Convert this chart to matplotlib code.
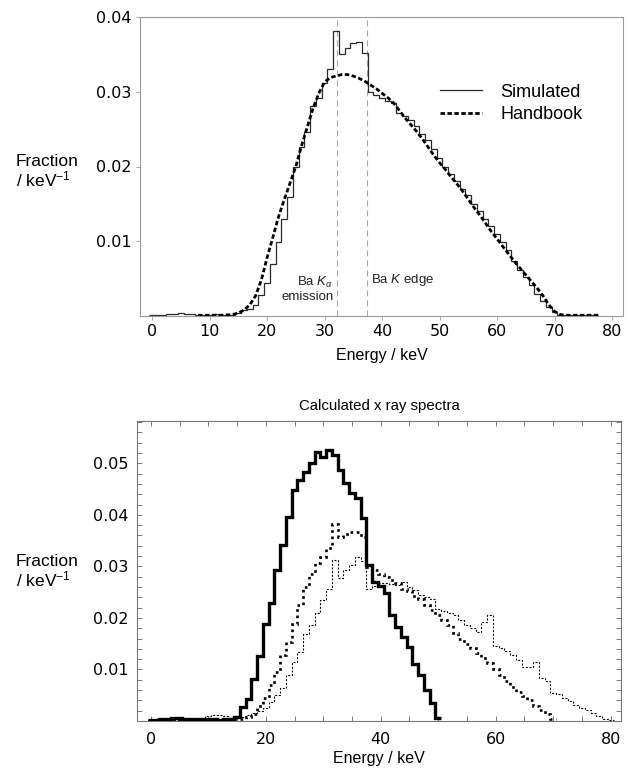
import numpy as np
import matplotlib
matplotlib.use("Agg")
import matplotlib.pyplot as plt
from matplotlib.ticker import MultipleLocator

plt.rcParams['font.family'] = ['Liberation Sans', 'DejaVu Sans']
plt.rcParams['mathtext.fontset'] = 'custom'
plt.rcParams['mathtext.rm'] = 'Liberation Sans'
plt.rcParams['mathtext.it'] = 'Liberation Sans:italic'
plt.rcParams['mathtext.sf'] = 'Liberation Sans'

# ---------------- Top panel data ----------------
# Simulated spectrum, 1 keV bins centred on integer energies (keV)
sim_bins = list(range(0, 78))
sim_values = [
    0.0001, 0.0001, 0.0002, 0.0003, 0.0003, 0.0004, 0.0003, 0.0003, 0.0002, 0.0002,
    0.0002, 0.0003, 0.0002, 0.0002, 0.0002, 0.0004, 0.0008, 0.0010, 0.0015, 0.0028,
    0.0044, 0.0070, 0.0099, 0.0130, 0.0159, 0.0199, 0.0226, 0.0246, 0.0281, 0.0292,
    0.0312, 0.0330, 0.0381, 0.0350, 0.0359, 0.0365, 0.0366, 0.0352, 0.0299, 0.0295,
    0.0292, 0.0288, 0.0285, 0.0272, 0.0268, 0.0262, 0.0254, 0.0243, 0.0236, 0.0224,
    0.0212, 0.0199, 0.0190, 0.0180, 0.0170, 0.0162, 0.0150, 0.0140, 0.0130, 0.0120,
    0.0110, 0.0099, 0.0088, 0.0074, 0.0062, 0.0052, 0.0042, 0.0030, 0.0020, 0.0012,
    0.0005, 0.0002, 0.0001, 0.0001, 0.0001, 0.0001, 0.0001, 0.0001,
]

# Handbook spectrum (keV, fraction/keV)
hb_energy = [8, 10, 12, 14, 15, 16, 17, 18, 19, 20, 21, 22, 23, 24, 25, 26, 27, 28, 29,
             30, 31, 32, 33, 34, 35, 36, 37, 38, 39, 40, 41, 42, 43, 44, 45, 46, 47, 48,
             49, 50, 51, 52, 53, 54, 55, 56, 57, 58, 59, 60, 61, 62, 63, 64, 65, 66, 67,
             68, 69, 70, 71, 72, 75, 78]
hb_values = [0.0001, 0.0001, 0.0001, 0.0002, 0.0004, 0.0008, 0.0015, 0.0027, 0.0048,
             0.0078, 0.0105, 0.0133, 0.0156, 0.0178, 0.0200, 0.0228, 0.0253, 0.0278,
             0.0298, 0.0313, 0.0319, 0.0321, 0.0323, 0.0323, 0.0321, 0.0318, 0.0314,
             0.0309, 0.0304, 0.0298, 0.0292, 0.0285, 0.0275, 0.0265, 0.0256, 0.0247,
             0.0237, 0.0226, 0.0215, 0.0205, 0.0196, 0.0186, 0.0177, 0.0167, 0.0156,
             0.0145, 0.0135, 0.0124, 0.0113, 0.0103, 0.0093, 0.0083, 0.0073, 0.0064,
             0.0055, 0.0046, 0.0037, 0.0027, 0.0015, 0.0006, 0.0002, 0.0001, 0.0001,
             0.0001]

ka_energy = 32.19     # Ba K-alpha emission (keV)
k_edge = 37.44        # Ba K edge (keV)

# ---------------- Bottom panel data ----------------
solid_bins = list(range(0, 51))
solid_values = [
    0.0002, 0.0002, 0.0003, 0.0004, 0.0005, 0.0005, 0.0004, 0.0004, 0.0003, 0.0003,
    0.0003, 0.0003, 0.0002, 0.0003, 0.0003, 0.0008, 0.0027, 0.0042, 0.0081, 0.0126,
    0.0189, 0.0229, 0.0293, 0.0341, 0.0396, 0.0448, 0.0468, 0.0484, 0.0500, 0.0521,
    0.0513, 0.0526, 0.0516, 0.0487, 0.0461, 0.0442, 0.0432, 0.0393, 0.0303, 0.0270,
    0.0262, 0.0248, 0.0205, 0.0183, 0.0163, 0.0144, 0.0110, 0.0089, 0.0060, 0.0034,
    0.0005,
]

thick_dot_bins = list(range(0, 71))
thick_dot_values = [
    0.0002, 0.0002, 0.0002, 0.0003, 0.0003, 0.0003, 0.0002, 0.0002, 0.0002, 0.0002,
    0.0002, 0.0002, 0.0002, 0.0002, 0.0002, 0.0003, 0.0004, 0.0008, 0.0014, 0.0030,
    0.0044, 0.0070, 0.0095, 0.0128, 0.0154, 0.0189, 0.0225, 0.0260, 0.0286, 0.0306,
    0.0319, 0.0335, 0.0382, 0.0357, 0.0362, 0.0366, 0.0367, 0.0357, 0.0299, 0.0293,
    0.0286, 0.0280, 0.0273, 0.0267, 0.0257, 0.0252, 0.0243, 0.0236, 0.0225, 0.0216,
    0.0205, 0.0196, 0.0187, 0.0170, 0.0160, 0.0150, 0.0142, 0.0132, 0.0122, 0.0112,
    0.0101, 0.0090, 0.0077, 0.0065, 0.0057, 0.0048, 0.0040, 0.0030, 0.0022, 0.0013,
    0.0004,
]

thin_dot_bins = list(range(0, 81))
thin_dot_values = [
    0.0002, 0.0002, 0.0002, 0.0002, 0.0002, 0.0002, 0.0002, 0.0002, 0.0002, 0.0002,
    0.0010, 0.0011, 0.0011, 0.0010, 0.0006, 0.0005, 0.0008, 0.0012, 0.0016, 0.0020,
    0.0026, 0.0037, 0.0050, 0.0064, 0.0090, 0.0115, 0.0134, 0.0168, 0.0187, 0.0210,
    0.0235, 0.0257, 0.0312, 0.0277, 0.0293, 0.0303, 0.0318, 0.0311, 0.0257, 0.0262,
    0.0267, 0.0267, 0.0265, 0.0264, 0.0270, 0.0260, 0.0254, 0.0245, 0.0240, 0.0237,
    0.0218, 0.0213, 0.0209, 0.0205, 0.0196, 0.0186, 0.0180, 0.0172, 0.0192, 0.0205,
    0.0146, 0.0141, 0.0135, 0.0128, 0.0119, 0.0104, 0.0104, 0.0114, 0.0083, 0.0078,
    0.0055, 0.0052, 0.0045, 0.0038, 0.0031, 0.0025, 0.0021, 0.0015, 0.0009, 0.0004,
    0.0002,
]

top_yticks = [0.01, 0.02, 0.03, 0.04]
top_ytick_labels = ["0.01", "0.02", "0.03", "0.04"]
top_xticks = [0, 10, 20, 30, 40, 50, 60, 70, 80]
bot_yticks = [0.01, 0.02, 0.03, 0.04, 0.05]
bot_ytick_labels = ["0.01", "0.02", "0.03", "0.04", "0.05"]
bot_xticks = [0, 20, 40, 60, 80]


def edges(bins):
    b = np.asarray(bins, dtype=float)
    return np.append(b - 0.5, b[-1] + 0.5)


W, H = 626, 775
fig = plt.figure(figsize=(W / 100, H / 100), dpi=100)
TICK_FS = 11.5
TICK_FONT = "DejaVu Sans"
LAB_FS = 11.5
YLAB_FS = 12.5
frame_col = "#9a9a9a"

# ---------------- Top axes ----------------
ax1 = fig.add_axes([140 / W, 1 - 316 / H, (623 - 140) / W, (316 - 17) / H])
ax1.set_xlim(-2.1, 81.9)
ax1.set_ylim(0, 0.04)
ax1.axvline(ka_energy, color="#a8a8a8", lw=0.8, ls=(0, (5.5, 3.5)), zorder=1)
ax1.axvline(k_edge, color="#a8a8a8", lw=0.8, ls=(0, (5.5, 3.5)), zorder=1)
ax1.stairs(sim_values, edges(sim_bins), baseline=None, color="#2a2a2a", lw=0.9,
           label="Simulated", zorder=2)
ax1.plot(hb_energy, hb_values, color="black", lw=2.0, ls=(0, (1.6, 0.9)),
         label="Handbook", zorder=3)
ax1.set_yticks(top_yticks)
ax1.set_yticklabels(top_ytick_labels)
ax1.set_xticks(top_xticks)
ax1.tick_params(direction="out", length=3, width=0.6, color=frame_col,
                labelsize=TICK_FS, labelfontfamily=TICK_FONT, pad=3)
for s in ax1.spines.values():
    s.set_color(frame_col)
    s.set_linewidth(0.8)
ax1.set_xlabel("Energy / keV", fontsize=LAB_FS, labelpad=6)
ax1.text(ka_energy - 0.6, 0.0036, "Ba $K_\\alpha$\nemission", ha="right", va="center",
         fontsize=9.5, multialignment="right", color="#222222", linespacing=1.05)
ax1.text(k_edge + 0.7, 0.0048, "Ba $K$ edge", ha="left", va="center",
         fontsize=9.5, color="#222222")
ax1.legend(loc="upper left", bbox_to_anchor=(0.621, 0.777), frameon=False,
           fontsize=13, handlelength=2.35, handletextpad=1.0,
           labelspacing=0.31, borderpad=0, borderaxespad=0)

fig.text(16 / W, 1 - 172 / H, "Fraction\n/ keV$^{-1}$", ha="left", va="center",
         fontsize=YLAB_FS, multialignment="left", linespacing=1.05)

# ---------------- Bottom axes ----------------
ax2 = fig.add_axes([137 / W, 1 - 721 / H, (621 - 137) / W, (721 - 421) / H])
ax2.set_xlim(-2.4, 81.8)
ax2.set_ylim(0, 0.0582)
ax2.stairs(solid_values, edges(solid_bins), baseline=None, color="black", lw=2.4,
           zorder=3)
ax2.stairs(thick_dot_values, edges(thick_dot_bins), baseline=None, color="black",
           lw=1.9, ls=(0, (1.0, 1.4)), zorder=2)
ax2.stairs(thin_dot_values, edges(thin_dot_bins), baseline=None, color="black",
           lw=0.8, ls=(0, (1.8, 1.5)), zorder=1)
ax2.set_yticks(bot_yticks)
ax2.set_yticklabels(bot_ytick_labels)
ax2.yaxis.set_minor_locator(MultipleLocator(0.002))
ax2.set_xticks(bot_xticks)
ax2.xaxis.set_minor_locator(MultipleLocator(5))
ax2.tick_params(which="both", direction="in", length=3.5, width=0.6, color="#666666",
                top=True, right=True, labelsize=TICK_FS, labelfontfamily=TICK_FONT)
ax2.tick_params(axis="x", which="both", pad=8)
ax2.tick_params(axis="y", which="both", pad=6)
for s in ax2.spines.values():
    s.set_color("#777777")
    s.set_linewidth(0.8)
ax2.set_xlabel("Energy / keV", fontsize=LAB_FS, labelpad=3)
ax2.set_title("Calculated x ray spectra", fontsize=10.8, pad=8)

fig.text(16 / W, 1 - 572 / H, "Fraction\n/ keV$^{-1}$", ha="left", va="center",
         fontsize=YLAB_FS, multialignment="left", linespacing=1.05)

fig.savefig("out.png", dpi=100)
